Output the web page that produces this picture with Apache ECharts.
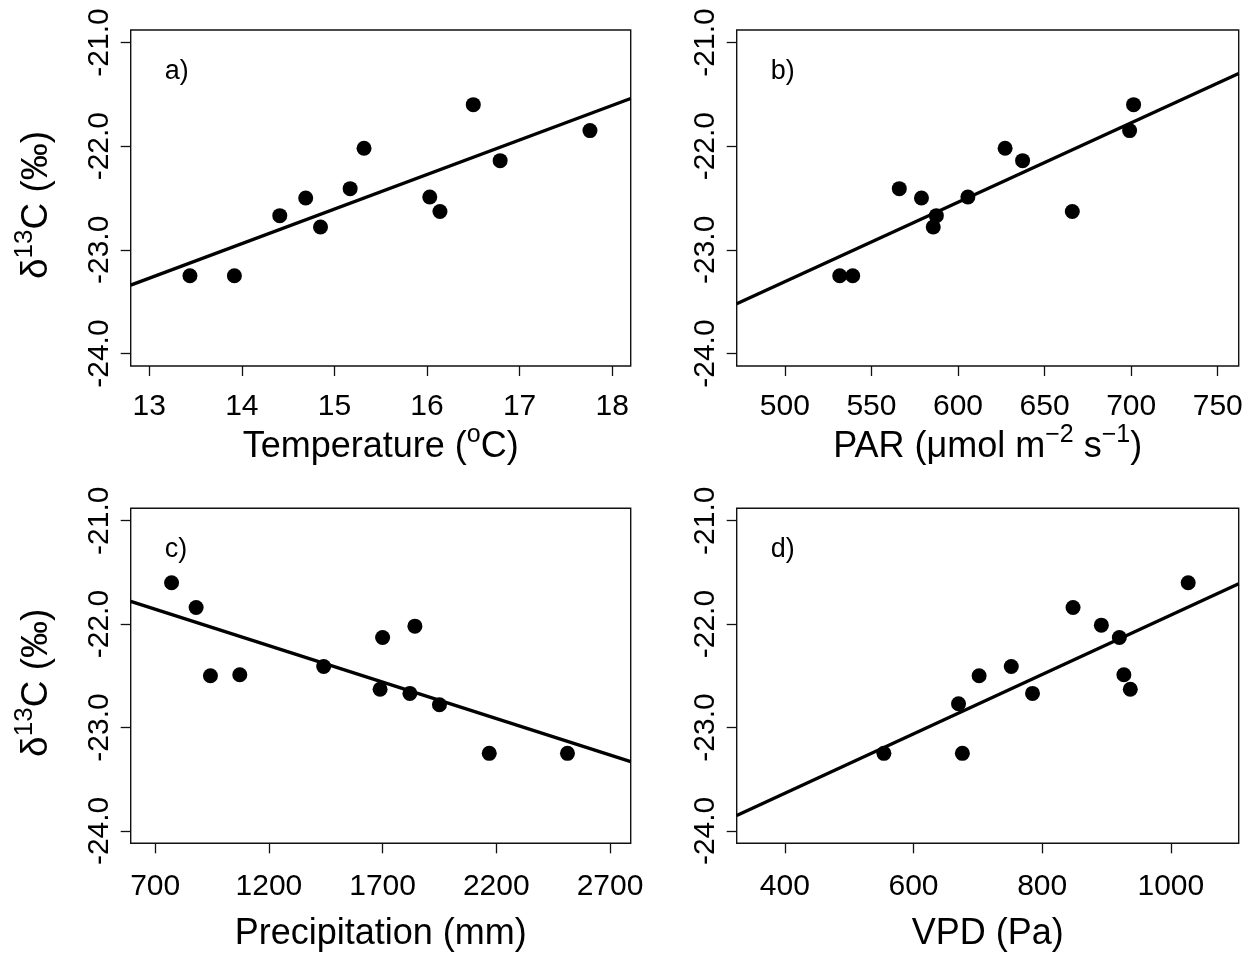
<!DOCTYPE html>
<html><head><meta charset="utf-8">
<script src="https://cdn.jsdelivr.net/npm/echarts@6/dist/echarts.min.js"></script>
<style>html,body{margin:0;padding:0;background:#fff}#c{width:1252px;height:958px}</style>
</head><body><div id="c"></div>
<script>
// ---- data ----
const tempX = [13.44, 13.92, 14.41, 14.69, 14.85, 15.17, 15.32, 16.03, 16.14, 16.50, 16.79, 17.76];
const tempY = [-23.25, -23.25, -22.67, -22.50, -22.78, -22.41, -22.02, -22.49, -22.63, -21.60, -22.14, -21.85];
const parX = [531.7, 539.2, 566.1, 578.9, 587.5, 585.7, 605.7, 627.2, 637.3, 666.0, 699.1, 701.4];
const parY = [-23.25, -23.25, -22.41, -22.50, -22.67, -22.78, -22.49, -22.02, -22.14, -22.63, -21.85, -21.60];
const precX = [772, 880, 943, 1072, 1441, 1700, 1689, 1820, 1842, 1950, 2169, 2513];
const precY = [-21.60, -21.84, -22.50, -22.49, -22.41, -22.13, -22.63, -22.67, -22.02, -22.78, -23.25, -23.25];
const vpdX = [554, 676, 670, 702, 752, 785, 848, 892, 920, 927, 937, 1027];
const vpdY = [-23.25, -23.25, -22.77, -22.50, -22.41, -22.67, -21.84, -22.01, -22.13, -22.49, -22.63, -21.60];

// fitted lines (end points read at the plot edges)
const tempFit = [[12.8, -23.34], [18.2, -21.54]];
const parFit = [[472.2, -23.52], [762.1, -21.30]];
const precFit = [[592.3, -21.78], [2791, -23.33]];
const vpdFit = [[325.2, -23.85], [1105.5, -21.61]];

// tick labels
const yTicks = [-24, -23, -22, -21];
const tempTicks = [13, 14, 15, 16, 17, 18];
const parTicks = [500, 550, 600, 650, 700, 750];
const precTicks = [700, 1200, 1700, 2200, 2700];
const vpdTicks = [400, 600, 800, 1000];

const panelLetters = ['a)', 'b)', 'c)', 'd)'];
const yTitle = '{b|δ}{s|13}{b|C (‰)}';
const xTitles = [
  '{b|Temperature (}{s|o}{b|C)}',
  '{b|PAR (μmol m}{s|−2}{b| s}{s|−1}{b|)}',
  '{b|Precipitation (mm)}',
  '{b|VPD (Pa)}'
];

// ---- layout ----
const FONT = 'Liberation Sans, Arial, Helvetica, sans-serif';
const grids = [
  {left: 130.7, top: 30, width: 500, height: 336},
  {left: 736.7, top: 30, width: 502, height: 336},
  {left: 130.7, top: 508.3, width: 500, height: 335},
  {left: 736.7, top: 508.3, width: 502, height: 335}
];
const xRanges = [[12.8, 18.2], [472.2, 762.1], [592.3, 2791], [325.2, 1105.5]];
const xTickSets = [tempTicks, parTicks, precTicks, vpdTicks];
const xs = [tempX, parX, precX, vpdX];
const ys = [tempY, parY, precY, vpdY];
const fits = [tempFit, parFit, precFit, vpdFit];
const xNameGaps = [60, 60, 71, 71];
const xLabelMargins = [26, 26, 28, 28];

const titleRich = {
  b: {fontSize: 36, fontFamily: FONT, color: '#000', lineHeight: 40},
  s: {fontSize: 25, fontFamily: FONT, color: '#000', lineHeight: 25, padding: [0, 0, 24, 0]}
};
const yTitleRich = {
  b: {fontSize: 37, fontFamily: FONT, color: '#000', lineHeight: 40},
  s: {fontSize: 26, fontFamily: FONT, color: '#000', lineHeight: 26, padding: [0, 0, 24, 0]}
};

const option = {
  backgroundColor: '#fff',
  animation: false,
  grid: grids.map(g => Object.assign({show: true, borderColor: '#111', borderWidth: 1.4, backgroundColor: 'transparent'}, g)),
  xAxis: grids.map((g, i) => ({
    type: 'value', gridIndex: i,
    min: xRanges[i][0], max: xRanges[i][1],
    name: xTitles[i], nameLocation: 'middle', nameGap: xNameGaps[i],
    nameTextStyle: {rich: titleRich},
    splitLine: {show: false},
    axisLine: {show: false},
    axisTick: {show: true, inside: false, length: 10, customValues: xTickSets[i], lineStyle: {color: '#111', width: 1.3}},
    axisLabel: {show: true, margin: xLabelMargins[i], customValues: xTickSets[i], fontSize: 30, fontFamily: FONT, color: '#000',
      formatter: v => String(v)}
  })),
  yAxis: grids.map((g, i) => ({
    type: 'value', gridIndex: i,
    min: -24.12, max: -20.88,
    name: (i % 2 === 0) ? yTitle : '', nameLocation: 'middle', nameGap: 74, nameRotate: 90,
    nameTextStyle: {rich: yTitleRich, padding: [0, 14, 0, 0]},
    splitLine: {show: false},
    axisLine: {show: false},
    axisTick: {show: true, inside: false, length: 10, customValues: yTicks, lineStyle: {color: '#111', width: 1.3}},
    axisLabel: {show: true, rotate: 90, margin: 16, customValues: yTicks, fontSize: 30, fontFamily: FONT, color: '#000',
      formatter: v => Number(v).toFixed(1)}
  })),
  graphic: grids.map((g, i) => ({
    type: 'text', left: g.left + 34, top: g.top + 28,
    style: {text: panelLetters[i], fontSize: 27, fontFamily: FONT, fill: '#000'}
  })),
  series: [].concat(
    grids.map((g, i) => ({
      type: 'scatter', xAxisIndex: i, yAxisIndex: i,
      symbol: 'circle', symbolSize: 15,
      itemStyle: {color: '#000', opacity: 1},
      data: xs[i].map((x, k) => [x, ys[i][k]])
    })),
    grids.map((g, i) => ({
      type: 'line', xAxisIndex: i, yAxisIndex: i,
      showSymbol: false, symbol: 'none',
      lineStyle: {color: '#000', width: 3.3},
      data: fits[i]
    }))
  )
};

const chart = echarts.init(document.getElementById('c'), null, {renderer: 'canvas'});
chart.setOption(option);
</script>
</body></html>
